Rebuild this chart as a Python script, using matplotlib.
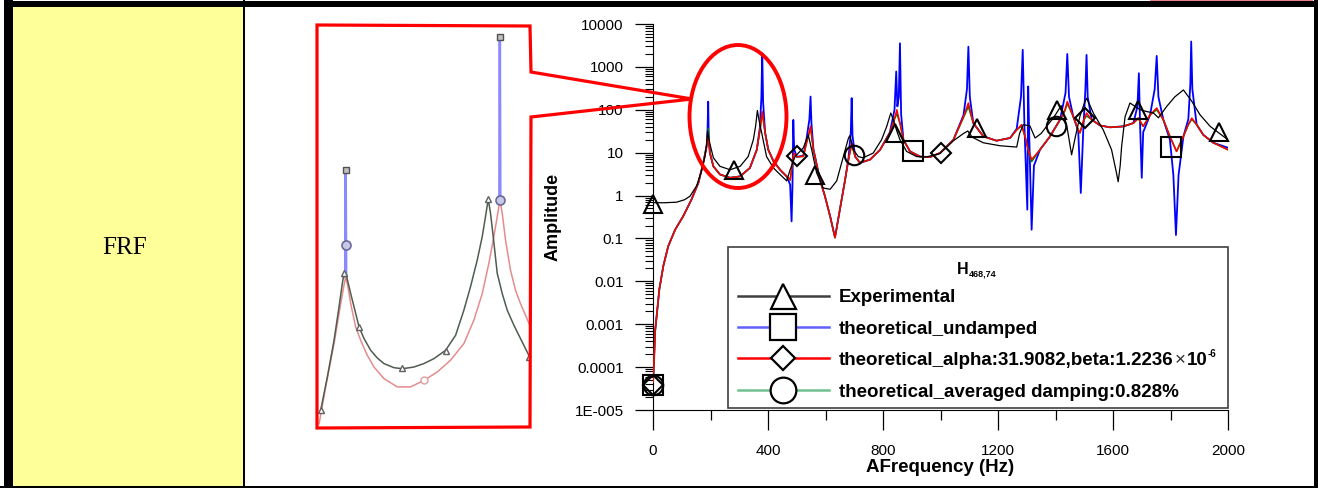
"""
FRF row: yellow label cell + zoomed inset + log-amplitude FRF comparison.
Writes out.png (1318x488).
"""
import numpy as np
import matplotlib
matplotlib.use('Agg')
import matplotlib.pyplot as plt
from matplotlib.patches import Rectangle, Ellipse, Polygon
from matplotlib.ticker import FixedLocator, FixedFormatter, LogLocator, NullFormatter

plt.rcParams['font.family'] = ['Liberation Sans', 'DejaVu Sans']

# ── data (Hz, amplitude) ──
freq_exp = [0, 40, 82, 110, 129, 152, 169, 181, 186, 190, 194, 198, 210, 233, 268, 303, 331, 349, 357, 363,
            370, 378, 395, 419, 442, 465, 477, 494, 523, 540, 552, 569, 592, 616, 639, 662, 680, 685, 697, 714,
            731, 766, 795, 813, 827, 836, 848, 859, 882, 917, 952, 998, 1045, 1080, 1095, 1110, 1149, 1207,
            1265, 1275, 1288, 1311, 1329, 1350, 1369, 1393, 1420, 1440, 1456, 1470, 1485, 1500, 1508, 1520,
            1532, 1566, 1595, 1612, 1618, 1625, 1630, 1642, 1659, 1677, 1695, 1717, 1740, 1758, 1787, 1815,
            1845, 1874, 1903, 1938, 1977, 2000]
amp_exp = [0.68, 0.68, 0.70, 0.80, 0.97, 1.7, 3.8, 8.5, 15, 32, 22, 16, 7.6, 4.8, 4.0, 4.8, 8.1, 20, 42, 96,
           52, 29, 8.1, 4.4, 3.1, 2.2, 4.0, 8.1, 13, 26, 11.7, 3.4, 1.5, 1.4, 2.2, 8.1, 22, 25, 11.7, 8.1,
           7.6, 9.8, 20, 41, 84, 59, 32, 20, 10.7, 8.1, 8.0, 9.5, 19, 28, 32, 23, 17, 14.5,
           13.5, 28, 45, 42, 22, 28, 41, 65, 125, 40, 8.9, 25, 71, 140, 186, 126,
           83, 34, 11.7, 3.4, 2.1, 5.0, 14, 69, 144, 120, 100, 91, 85, 65, 120, 200,
           290, 158, 76, 41, 26, 20]

freq_und = [0, 3.5, 7, 12.8, 22, 36, 53, 77, 105, 134, 158, 175, 187, 190, 192, 194, 198, 210, 233, 268,
            303, 337, 361, 372, 377, 380, 383, 390, 401, 419, 442, 465, 477, 482, 485, 488, 491, 500, 523, 534,
            544, 548, 551, 558, 581, 598, 616, 633, 650, 668, 680, 688, 691, 694, 703, 720, 755, 790, 824, 840,
            846, 850, 855, 859, 863, 871, 894, 929, 963, 998, 1045, 1080, 1092, 1097, 1102, 1114, 1149, 1195,
            1242, 1265, 1280, 1286, 1292, 1302, 1305, 1309, 1317, 1325, 1346, 1381, 1416, 1435, 1441, 1447,
            1462, 1479, 1488, 1497, 1504, 1508, 1512, 1526, 1555, 1590, 1636, 1671, 1685, 1690, 1694, 1700,
            1705, 1729, 1745, 1752, 1758, 1775, 1798, 1810, 1819, 1828, 1845, 1862, 1869, 1872, 1876, 1891,
            1914, 1949, 2000]
amp_und = [4.5e-5, 1.3e-4, 6.5e-4, 1.55e-3, 6.5e-3, 0.023, 0.066, 0.16, 0.33, 0.81, 2.0, 5.8, 15, 40, 155, 20,
           9.8, 4.8, 3.1, 2.6, 2.8, 4.4, 11.7, 40, 200, 2090, 150, 29, 11.7, 6.3, 4.0, 2.8, 1.8, 0.25, 1.5, 58,
           12, 8.0, 8.5, 21, 60, 203, 50, 12, 2.3, 0.97, 0.33, 0.105, 0.47, 2.3, 7.5, 30, 187, 25, 8.1, 5.8,
           6.9, 11.7, 30, 100, 780, 120, 200, 3550, 80, 20, 10.7, 8.1, 7.9, 9.8, 20, 75, 300, 2960, 200, 49,
           24, 19, 22, 36, 200, 2500, 40, 0.47, 350, 20, 0.16, 5, 11.7, 24, 59, 250, 2000, 200, 69, 32, 1.15,
           40, 300, 1900, 200, 59, 43, 39, 41, 49, 120, 710, 50, 2.6, 30, 76, 300, 1800, 200, 59, 20, 3, 0.12,
           3, 24, 60, 400, 3900, 300, 45, 26, 17, 13]

freq_ab = [0, 3.5, 7, 12.8, 22, 36, 53, 77, 105, 134, 158, 175, 187, 192, 198, 210, 233, 268, 303, 337,
           361, 372, 380, 390, 401, 419, 442, 465, 477, 490, 500, 523, 534, 548, 558, 581, 598, 616, 633, 650,
           668, 680, 691, 703, 720, 755, 790, 824, 842, 848, 859, 871, 894, 929, 963, 998, 1045, 1080, 1097,
           1114, 1149, 1195, 1242, 1265, 1282, 1294, 1305, 1317, 1346, 1381, 1416, 1433, 1441, 1462, 1479,
           1485, 1499, 1508, 1526, 1555, 1590, 1636, 1671, 1688, 1705, 1729, 1752, 1775, 1798, 1821, 1845,
           1862, 1874, 1891, 1914, 1949, 2000]
amp_ab = [4.5e-5, 1.3e-4, 6.5e-4, 1.55e-3, 6.5e-3, 0.023, 0.066, 0.16, 0.33, 0.81, 2.0, 5.8, 14, 24, 9.8, 4.8,
          3.1, 2.6, 2.8, 4.4, 11.7, 34, 91, 29, 11.7, 6.3, 4.0, 2.8, 2.3, 9.8, 8.0, 8.2, 17, 41, 11.7, 2.3,
          0.97, 0.33, 0.105, 0.47, 2.3, 6.9, 17, 8.1, 5.8, 6.9, 11.7, 29, 69, 100, 49, 20, 10.7, 8.1, 7.9,
          9.8, 20, 69, 144, 49, 24, 19, 22, 34, 45, 24, 11.7, 6.9, 11.7, 24, 59, 100, 156, 69, 34, 29, 59,
          84, 59, 43, 39, 41, 49, 65, 41, 76, 110, 59, 24, 10.7, 24, 45, 64, 45, 26, 17, 11.7]
# averaged damping: same grid, differs only a little at the peaks
freq_avg = freq_ab
amp_avg = [4.5e-5, 1.3e-4, 6.5e-4, 1.55e-3, 6.5e-3, 0.023, 0.066, 0.16, 0.33, 0.81, 2.0, 5.8, 15, 37, 9.8, 4.8,
           3.1, 2.6, 2.8, 4.4, 11.7, 33, 85, 29, 11.7, 6.3, 4.0, 2.8, 2.3, 9.6, 8.0, 8.2, 17, 38, 11.7, 2.3,
           0.97, 0.33, 0.105, 0.47, 2.3, 6.9, 15, 8.1, 5.8, 6.9, 11.7, 29, 66, 80, 49, 20, 10.7, 8.1, 7.9,
           9.8, 20, 66, 118, 49, 24, 19, 22, 34, 42, 24, 11.7, 6.2, 11.7, 24, 59, 95, 140, 69, 34, 29, 59,
           72, 59, 43, 39, 41, 49, 62, 41, 76, 100, 59, 24, 10.7, 24, 45, 60, 45, 26, 17, 11.7]

# symbols placed along each curve
tri_f = [0, 280, 563, 842, 1127, 1405, 1687, 1969]
tri_a = [0.65, 4.0, 3.0, 28, 37, 98, 100, 31]
sq_f = [0, 903, 1802]
sq_a = [3.8e-5, 11, 13.8]
dia_f = [0, 500, 1002, 1503]
dia_a = [3.8e-5, 8.2, 9.8, 64]
cir_f = [0, 700, 1401]
cir_a = [3.8e-5, 8.8, 41]

xticks = [0, 400, 800, 1200, 1600, 2000]
xminor = [200, 600, 1000, 1400, 1800]
yticks = [1e-5, 1e-4, 1e-3, 1e-2, 1e-1, 1, 10, 100, 1000, 10000]
ylabels = ['1E-005', '0.0001', '0.001', '0.01', '0.1', '1', '10', '100', '1000', '10000']

legend_labels = ['Experimental', 'theoretical_undamped',
                 'theoretical_alpha:31.9082,beta:1.2236', 'theoretical_averaged damping:0.828%']

# zoomed picture of the 160-420 Hz band (left panel)
ins_f_exp = [161.5, 169.6, 177.8, 183.9, 187.9, 190.0, 193.2, 198.1, 204.2, 208.3, 214.4, 222.5, 230.6, 238.7,
             250.9, 261.1, 275.3, 287.5, 299.7, 314.0, 326.2, 336.3, 344.4, 352.6, 358.7, 362.7, 366.0, 368.8,
             372.1, 377.0, 383.1, 389.2, 397.3, 405.4, 417.6]
ins_a_exp = [1.80, 3.39, 6.82, 12.9, 20.1, 24.4, 22.9, 16.6, 11.4, 8.8, 7.05, 5.64, 4.87, 4.38,
             4.05, 3.97, 4.10, 4.38, 4.81, 5.64, 7.51, 12.1, 18.9, 31.4, 49.1, 71.8, 100, 76.6,
             49.1, 24.4, 16.6, 12.1, 9.1, 7.05, 4.81]
ins_f_ab = [159.5, 167.6, 177.8, 185.9, 190.0, 192.0, 194.8, 198.1, 204.2, 210.3, 218.4, 226.6, 238.7, 255.0,
            271.3, 287.5, 303.8, 320.0, 336.3, 348.5, 358.7, 366.8, 372.9, 377.0, 380.2, 383.1, 387.1, 393.2,
            399.3, 405.4, 417.6]
ins_a_ab = [1.39, 2.81, 6.41, 13.7, 19.5, 22.9, 18.9, 13.7, 8.8, 6.82, 5.13, 4.10, 3.29, 2.81,
            2.81, 3.18, 3.73, 4.67, 6.41, 10, 16.6, 29.5, 49.1, 71.8, 98.7, 76.6, 46.0, 25.9,
            17.7, 13.7, 8.8]
ins_f_und = [[191.4, 192, 192.6], [379.6, 380.2, 380.8]]
ins_a_und = [[22.9, 175, 22.9], [98, 2200, 98]]
ins_tri_f = [161.5, 190, 208.3, 261.1, 314, 366, 415.6]
ins_tri_a = [1.8, 24.4, 8.8, 4.0, 5.6, 100, 5.0]
ins_top_f = [192, 380.2]
ins_top_a = [175, 2200]
ins_cir_f = [192, 380.2]
ins_cir_a = [42, 98]

W, H = 1318, 488
fig = plt.figure(figsize=(W / 100, H / 100), dpi=100)


def px_rect(x0, y0, x1, y1):
    # pixel box (top-left origin) -> figure fraction
    return [x0 / W, 1 - y1 / H, (x1 - x0) / W, (y1 - y0) / H]


# ── main FRF axes ──
ax = fig.add_axes(px_rect(653, 24, 1228, 410))
ax.set_yscale('log')
ax.plot(freq_und, amp_und, color='#0000ff', lw=1.3, zorder=2)
ax.plot(freq_avg, amp_avg, color='#008000', lw=1.1, zorder=3)
ax.plot(freq_ab, amp_ab, color='#ff0000', lw=1.1, zorder=4)
ax.plot(freq_exp, amp_exp, color='black', lw=0.9, zorder=5)
mk = dict(ls='none', mfc='none', mec='black', mew=1.5, zorder=6, clip_on=False)
ax.plot(tri_f, tri_a, marker='^', ms=13.5, **mk)
ax.plot(sq_f, sq_a, marker='s', ms=14, **mk)
ax.plot(dia_f, dia_a, marker='D', ms=9.7, **mk)
ax.plot(cir_f, cir_a, marker='o', ms=14, **mk)
ax.set_xlim(0, 2000); ax.set_ylim(1e-5, 1e4)

ax.xaxis.set_major_locator(FixedLocator(xticks))
ax.xaxis.set_major_formatter(FixedFormatter([str(v) for v in xticks]))
ax.xaxis.set_minor_locator(FixedLocator(xminor))
ax.yaxis.set_major_locator(FixedLocator(yticks))
ax.yaxis.set_major_formatter(FixedFormatter(ylabels))
ax.yaxis.set_minor_locator(LogLocator(base=10, subs=np.arange(2, 10), numticks=50))
ax.yaxis.set_minor_formatter(NullFormatter())
ax.tick_params(axis='y', which='major', length=13, width=0.9, pad=8, labelsize=11)
ax.tick_params(axis='y', which='minor', length=6, width=0.8)
ax.tick_params(axis='x', which='major', length=14.4, width=0.9, pad=10, labelsize=11)
ax.tick_params(axis='x', which='minor', length=7.2, width=0.9)
for s in ('top', 'right'):
    ax.spines[s].set_visible(False)
ax.set_ylabel('Amplitude', fontsize=13, fontweight='bold')
ax.yaxis.set_label_coords((553 - 653) / 575, 0.5)
ax.yaxis.label.set_verticalalignment('center')
ax.set_xlabel('AFrequency (Hz)', fontsize=13.5, fontweight='bold')
ax.xaxis.set_label_coords(0.5, (20 - 78) / 386)
ax.xaxis.label.set_verticalalignment('center')

# ── zoomed inset (left panel) ──
ins = fig.add_axes(px_rect(317, 25, 530, 427))
ins.set_yscale('log'); ins.set_xlim(157, 417); ins.set_ylim(1.31, 2750)
ins.axis('off')
for f, a in zip(ins_f_und, ins_a_und):
    ins.plot(f, a, color='#8a8aff', lw=1.8, zorder=2)
ins.plot(ins_f_ab, ins_a_ab, color='#e58c8c', lw=1.1, zorder=3)
ins.plot(ins_f_exp, ins_a_exp, color='#4f5c4f', lw=1.1, zorder=4)
ins.plot(ins_tri_f, ins_tri_a, ls='none', marker='^', ms=4.5, mfc='white', mec='#606060', mew=1, zorder=5)
ins.plot(ins_top_f, ins_top_a, ls='none', marker='s', ms=4, mfc='#c0c0c0', mec='#505050', mew=1, zorder=5)
ins.plot(ins_cir_f, ins_cir_a, ls='none', marker='o', ms=6.5, mfc='#c8c8e8', mec='#6a6a9a', mew=1.2, zorder=5)
ins.plot([287.5], [3.2], ls='none', marker='o', ms=5, mfc='white', mec='#d9a0a0', mew=1, zorder=5)

# ── overlay in pixel coordinates: table cell, callout, legend ──
ov = fig.add_axes([0, 0, 1, 1], zorder=10)
ov.set_xlim(0, W); ov.set_ylim(H, 0); ov.axis('off')
ov.add_patch(Rectangle((12.7, 6), 230.3, 480, fc='#ffff99', ec='none', zorder=0))
for x, y, w, h in [(4, 1, 1314, 5.5), (4, 0, 8.7, H), (0, 486, W, 2), (1313.5, 0, 4.5, H), (243, 0, 2, H)]:
    ov.add_patch(Rectangle((x, y), w, h, fc='black', ec='none', zorder=1))
ov.add_patch(Rectangle((1150, 0), 163, 1.2, fc='#f08080', ec='none', zorder=2))
ov.text(125, 248, 'FRF', family=['Liberation Serif', 'DejaVu Serif'], fontsize=18,
        ha='center', va='center')

ov.add_patch(Polygon([(317, 25), (530, 26), (531, 72), (692, 99), (531, 117), (530, 427), (317, 428)],
                     closed=True, fill=False, ec='#ff0000', lw=2.3, joinstyle='miter'))
ov.add_patch(Ellipse((738, 116.5), 97, 143, fill=False, ec='#ff0000', lw=2.8))

ov.add_patch(Rectangle((728, 247), 500, 161, fc='white', ec='#404040', lw=1.2, zorder=3))
rows_y = [295.7, 327.3, 358.3, 390]
row_style = [('#404040', '^', 18), ('#6060ff', 's', 18.5), ('#ff0000', 'D', 12.7), ('#70c090', 'o', 18.5)]
for y, (c, m, ms), lab in zip(rows_y, row_style, legend_labels):
    ov.plot([738, 829], [y, y], color=c, lw=1.8, zorder=4)
    ov.plot([783], [y], marker=m, ms=ms, mfc='white', mec='black', mew=1.6, zorder=5)
    ov.text(839, y + 6.7, lab, fontsize=13.5, fontweight='bold', va='baseline', zorder=5)

fig.canvas.draw()
r = fig.canvas.get_renderer()


def right_of(t):
    bb = t.get_window_extent(r)
    return ov.transData.inverted().transform((bb.x1, bb.y0))[0]


# the ×10^-6 tail of the third entry and the H subscript title
t = ov.texts[-2]
x = right_of(t)
t = ov.text(x + 1, 365, '\u00d7', fontsize=13.5, color='#303030', va='baseline', zorder=5)
x = right_of(t)
t = ov.text(x + 1, 365, '10', fontsize=13.5, fontweight='bold', va='baseline', zorder=5)
x = right_of(t)
ov.text(x + 0.5, 357, '-6', fontsize=7, fontweight='bold', va='baseline', zorder=5)
t = ov.text(957, 274, 'H', fontsize=11.5, fontweight='bold', va='baseline', zorder=5)
x = right_of(t)
ov.text(x + 0.5, 276.7, '468,74', fontsize=6.5, fontweight='bold', va='baseline', zorder=5)

fig.savefig('out.png', dpi=100)
